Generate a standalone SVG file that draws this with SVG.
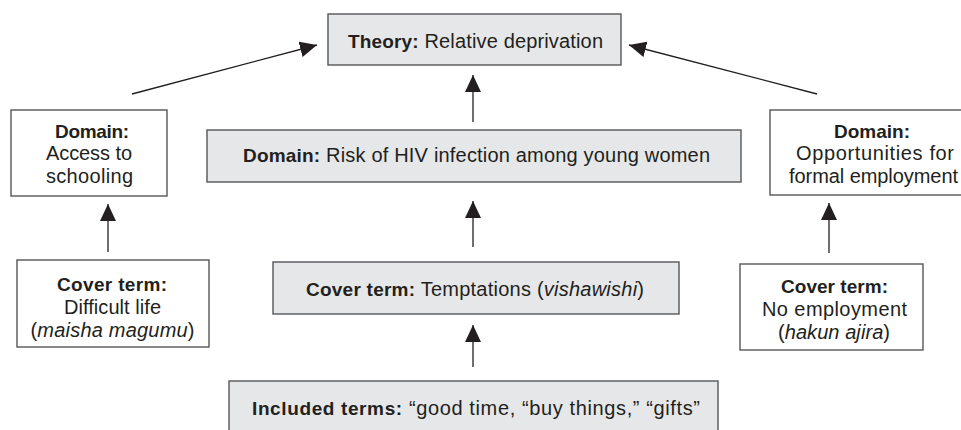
<svg xmlns="http://www.w3.org/2000/svg" width="961" height="430" viewBox="0 0 961 430">
<style>
.box{stroke:#555658;stroke-width:1.4;}
.g{fill:#e6e7e8;}
.w{fill:#ffffff;}
text{font-family:"Liberation Sans",Arial,Helvetica,sans-serif;font-size:20px;fill:#231f20;text-anchor:middle;}
.b{font-weight:bold;font-size:19px;}
.i{font-style:italic;}
.c{stroke:#231f20;stroke-width:1.3;fill:none;}
</style>
<defs>
<marker id="ah" markerUnits="userSpaceOnUse" markerWidth="18" markerHeight="17" refX="17" refY="8" orient="auto">
<path d="M0,0 L17,8 L0,16 z" fill="#231f20"/>
</marker>
</defs>
<g id="connectors">
<line class="c" x1="132" y1="94" x2="317" y2="45" marker-end="url(#ah)"/>
<line class="c" x1="817" y1="94" x2="629" y2="45" marker-end="url(#ah)"/>
<line class="c" x1="473" y1="122" x2="473" y2="75" marker-end="url(#ah)"/>
<line class="c" x1="473" y1="247" x2="473" y2="201" marker-end="url(#ah)"/>
<line class="c" x1="473" y1="367" x2="473" y2="325" marker-end="url(#ah)"/>
<line class="c" x1="108" y1="252" x2="108" y2="204" marker-end="url(#ah)"/>
<line class="c" x1="829" y1="253" x2="829" y2="203" marker-end="url(#ah)"/>
</g>
<g id="theory">
<rect class="box g" x="328" y="14" width="293" height="51"/>
<text x="475.5" y="48" textLength="255" lengthAdjust="spacing"><tspan class="b">Theory:</tspan> Relative deprivation</text>
</g>
<g id="domain-schooling">
<rect class="box w" x="11" y="110" width="156" height="86"/>
<text x="92" y="138" class="b" textLength="74" lengthAdjust="spacing">Domain:</text>
<text x="89" y="160" textLength="86" lengthAdjust="spacing">Access to</text>
<text x="89.5" y="183" textLength="87" lengthAdjust="spacing">schooling</text>
</g>
<g id="domain-hiv">
<rect class="box g" x="207" y="130" width="534" height="52"/>
<text x="476.5" y="162" textLength="467" lengthAdjust="spacing"><tspan class="b">Domain:</tspan> Risk of HIV infection among young women</text>
</g>
<g id="domain-employment">
<rect class="box w" x="770" y="110" width="210" height="85"/>
<text x="872" y="138" class="b" textLength="76" lengthAdjust="spacing">Domain:</text>
<text x="875" y="160" textLength="158" lengthAdjust="spacing">Opportunities for</text>
<text x="873.5" y="183" textLength="169" lengthAdjust="spacing">formal employment</text>
</g>
<g id="cover-difficult">
<rect class="box w" x="17" y="260" width="192" height="87"/>
<text x="112" y="291" class="b" textLength="110" lengthAdjust="spacing">Cover term:</text>
<text x="112.5" y="314" textLength="97" lengthAdjust="spacing">Difficult life</text>
<text x="112.5" y="337" textLength="164" lengthAdjust="spacing">(<tspan class="i">maisha magumu</tspan>)</text>
</g>
<g id="cover-temptations">
<rect class="box g" x="273" y="262" width="406" height="52"/>
<text x="475" y="296" textLength="338" lengthAdjust="spacing"><tspan class="b">Cover term:</tspan> Temptations (<tspan class="i">vishawishi</tspan>)</text>
</g>
<g id="cover-employment">
<rect class="box w" x="740" y="264" width="183" height="86"/>
<text x="834.5" y="293" class="b" textLength="107" lengthAdjust="spacing">Cover term:</text>
<text x="834.5" y="316" textLength="145" lengthAdjust="spacing">No employment</text>
<text x="834" y="339" textLength="112" lengthAdjust="spacing">(<tspan class="i">hakun ajira</tspan>)</text>
</g>
<g id="included-terms">
<rect class="box g" x="229" y="381" width="489" height="60"/>
<text x="476" y="415" textLength="448" lengthAdjust="spacing"><tspan class="b">Included terms:</tspan> “good time, “buy things,” “gifts”</text>
</g>
</svg>
